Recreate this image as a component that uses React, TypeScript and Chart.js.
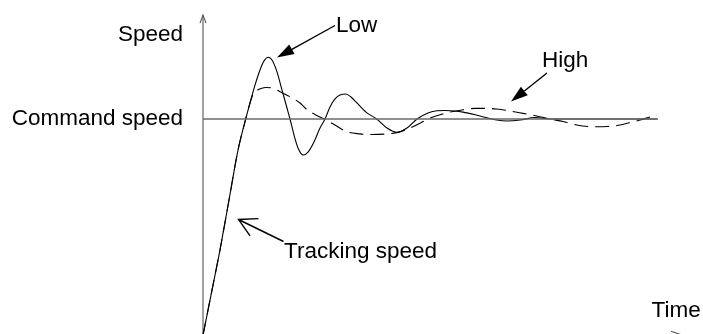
import { useEffect, useRef } from "react";
import { Chart, registerables } from "chart.js";

Chart.register(...registerables);

// Time (arbitrary units) and speed (command speed = 1)
const lowTime = [0, 0.02, 0.18, 0.34, 0.52, 0.7, 0.854, 0.94, 1.04, 1.14, 1.22, 1.306, 1.38, 1.48, 1.58, 1.68, 1.74, 1.82, 1.9, 2.006, 2.1, 2.22, 2.34, 2.44, 2.54, 2.64, 2.74, 2.854, 2.96, 3.06, 3.26, 3.474, 3.68, 3.88, 4.08, 4.28, 4.5, 4.68, 4.84, 5.04, 5.2, 5.54, 5.88, 6.08, 6.34, 6.64, 6.94, 7.44, 7.94, 8.54, 9.08];
const lowSpeed = [0, 0.023, 0.208, 0.394, 0.625, 0.856, 1.0, 1.074, 1.157, 1.227, 1.269, 1.286, 1.273, 1.218, 1.134, 1.051, 1.0, 0.926, 0.866, 0.833, 0.847, 0.894, 0.958, 1.0, 1.056, 1.093, 1.111, 1.116, 1.102, 1.079, 1.032, 1.0, 0.958, 0.938, 0.958, 1.0, 1.028, 1.038, 1.039, 1.037, 1.032, 1.014, 0.995, 0.991, 0.995, 1.007, 1.0, 1.0, 1.0, 1.0, 1.0];

const highTime = [0, 0.02, 0.18, 0.34, 0.52, 0.7, 0.854, 0.94, 1.006, 1.08, 1.16, 1.26, 1.38, 1.54, 1.74, 1.94, 2.074, 2.24, 2.44, 2.64, 2.874, 3.14, 3.38, 3.62, 3.874, 4.14, 4.34, 4.48, 4.674, 4.94, 5.206, 5.44, 5.674, 5.874, 6.14, 6.4, 6.674, 6.94, 7.2, 7.474, 7.7, 7.88, 8.08, 8.34, 8.54, 8.74, 8.88, 9.08];
const highSpeed = [0, 0.023, 0.208, 0.394, 0.625, 0.856, 1.0, 1.074, 1.116, 1.132, 1.141, 1.146, 1.144, 1.126, 1.103, 1.074, 1.044, 1.021, 0.998, 0.972, 0.941, 0.931, 0.928, 0.93, 0.937, 0.958, 0.98, 0.998, 1.015, 1.032, 1.043, 1.049, 1.049, 1.046, 1.037, 1.026, 1.014, 1.0, 0.988, 0.972, 0.965, 0.964, 0.965, 0.972, 0.984, 0.995, 1.006, 1.017];

const commandSpeed = 1;
const commandEnd = 9.1;
const speedAxisTop = 1.481;
const timeAxisEnd = 9.58;

const labelSpeed = "Speed";
const labelCommand = "Command speed";
const labelLow = "Low";
const labelHigh = "High";
const labelTracking = "Tracking speed";
const labelTime = "Time";

const FONT = '22.5px "Liberation Sans", Arial, sans-serif';

function openHead(ctx: CanvasRenderingContext2D, tx: number, ty: number, ang: number, len: number, half: number) {
  const cx = Math.cos(ang), sy = Math.sin(ang);
  const bx = tx + cx * len, by = ty + sy * len;
  ctx.beginPath();
  ctx.moveTo(bx - sy * half, by + cx * half);
  ctx.lineTo(tx, ty);
  ctx.lineTo(bx + sy * half, by - cx * half);
  ctx.stroke();
}

function filledArrow(ctx: CanvasRenderingContext2D, x1: number, y1: number, x2: number, y2: number, len: number, half: number) {
  const ang = Math.atan2(y1 - y2, x1 - x2);
  const cx = Math.cos(ang), sy = Math.sin(ang);
  const bx = x2 + cx * len, by = y2 + sy * len;
  ctx.beginPath();
  ctx.moveTo(x1, y1);
  ctx.lineTo(bx, by);
  ctx.stroke();
  ctx.beginPath();
  ctx.moveTo(x2, y2);
  ctx.lineTo(bx - sy * half, by + cx * half);
  ctx.lineTo(bx + sy * half, by - cx * half);
  ctx.closePath();
  ctx.fill();
}

const axesPlugin = {
  id: "axesPlugin",
  beforeDatasetsDraw(chart: any) {
    const { ctx, scales } = chart;
    const x = scales.x, y = scales.y;
    const x0 = x.getPixelForValue(0);
    const y0 = y.getPixelForValue(0);
    const yTop = y.getPixelForValue(speedAxisTop);
    const xEnd = x.getPixelForValue(timeAxisEnd);
    ctx.save();
    ctx.strokeStyle = "#555555";
    ctx.lineWidth = 1.1;
    ctx.beginPath();
    ctx.moveTo(x0, y0);
    ctx.lineTo(x0, yTop);
    ctx.stroke();
    openHead(ctx, x0, yTop, Math.PI / 2, 8, 3);
    ctx.beginPath();
    ctx.moveTo(x0, y0);
    ctx.lineTo(xEnd, y0);
    ctx.stroke();
    openHead(ctx, xEnd, y0, Math.PI, 11, 3.7);
    ctx.restore();
  },
};

const textPlugin = {
  id: "textPlugin",
  afterDraw(chart: any) {
    const { ctx } = chart;
    ctx.save();
    ctx.font = FONT;
    ctx.fillStyle = "#000";
    ctx.textBaseline = "alphabetic";
    ctx.textAlign = "right";
    ctx.fillText(labelSpeed, 183, 40.5);
    ctx.fillText(labelCommand, 183, 125);
    ctx.textAlign = "left";
    ctx.fillText(labelLow, 336, 31.5);
    ctx.fillText(labelHigh, 542, 66.5);
    ctx.fillText(labelTracking, 284, 258);
    ctx.fillText(labelTime, 651.5, 316.5);

    ctx.strokeStyle = "#000";
    ctx.lineWidth = 1.4;
    filledArrow(ctx, 335, 25.5, 277, 57.5, 17, 5.5);
    filledArrow(ctx, 547, 73, 511, 101.5, 17, 5.5);
    ctx.beginPath();
    ctx.moveTo(283.5, 241.5);
    ctx.lineTo(238.5, 219.5);
    ctx.stroke();
    const ang = Math.atan2(241.5 - 219.5, 283.5 - 238.5);
    ctx.beginPath();
    const l = 20, a = 0.5;
    ctx.moveTo(238.5 + Math.cos(ang - a) * l, 219.5 + Math.sin(ang - a) * l);
    ctx.lineTo(238.5, 219.5);
    ctx.lineTo(238.5 + Math.cos(ang + a) * l, 219.5 + Math.sin(ang + a) * l);
    ctx.stroke();
    ctx.restore();
  },
};

export default function App() {
  const ref = useRef<HTMLCanvasElement | null>(null);
  useEffect(() => {
    if (!ref.current) return;
    const chart = new Chart(ref.current, {
      type: "line",
      data: {
        datasets: [
          {
            label: "Command speed",
            data: [
              { x: 0, y: commandSpeed },
              { x: commandEnd, y: commandSpeed },
            ],
            borderColor: "#6a6a6a",
            borderWidth: 1.6,
            pointRadius: 0,
          },
          {
            label: labelHigh,
            data: highTime.map((t, i) => ({ x: t, y: highSpeed[i] })),
            borderColor: "#000",
            borderWidth: 1.1,
            borderDash: [14, 7],
            pointRadius: 0,
            cubicInterpolationMode: "monotone",
          },
          {
            label: labelLow,
            data: lowTime.map((t, i) => ({ x: t, y: lowSpeed[i] })),
            borderColor: "#000",
            borderWidth: 1.1,
            pointRadius: 0,
            cubicInterpolationMode: "monotone",
          },
        ],
      } as any,
      options: {
        responsive: false,
        animation: false,
        devicePixelRatio: 1,
        events: [],
        layout: { padding: 0 },
        plugins: { legend: { display: false }, tooltip: { enabled: false } },
        scales: {
          x: { type: "linear", display: false, min: -4.06, max: 10 },
          y: { type: "linear", display: false, min: 0.00463, max: 1.5509 },
        },
      } as any,
      plugins: [axesPlugin, textPlugin],
    });
    return () => chart.destroy();
  }, []);
  return (
    <div style={{ position: "absolute", left: 0, top: 0, width: 703, height: 334, background: "#fff" }}>
      <canvas ref={ref} width={703} height={334} style={{ display: "block" }} />
    </div>
  );
}
